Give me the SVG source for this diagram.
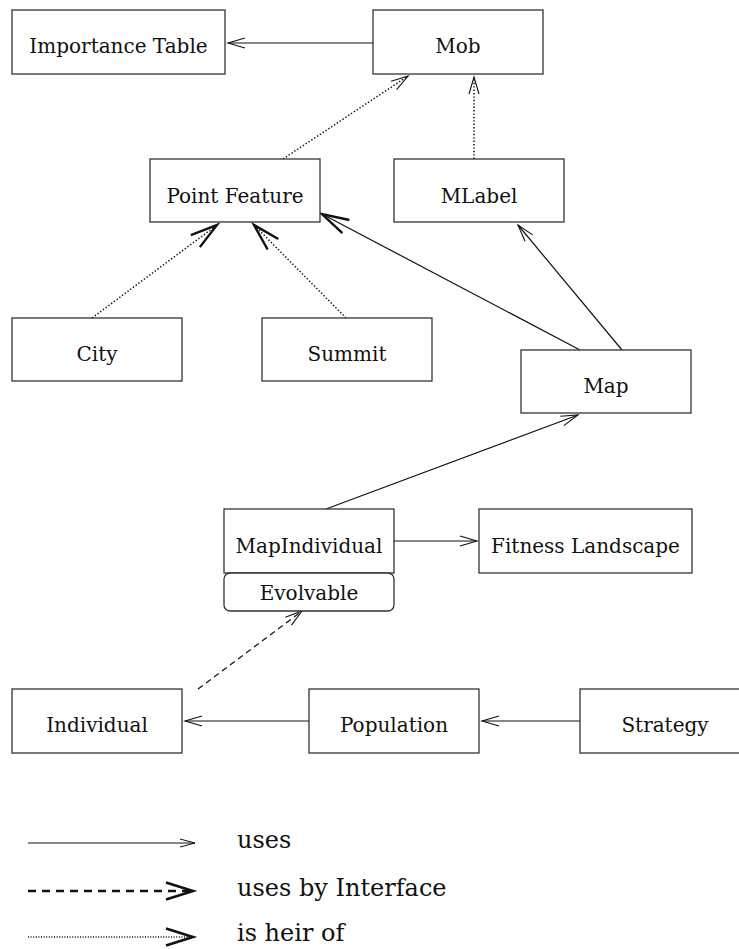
<svg xmlns="http://www.w3.org/2000/svg" width="739" height="949" viewBox="0 0 739 949">
<style>
.box{fill:#fff;stroke:#333;stroke-width:1.3}
.lbl{font-family:"DejaVu Serif","Liberation Serif",serif;font-size:20px;fill:#111;text-anchor:middle}
.leg{font-family:"DejaVu Serif","Liberation Serif",serif;font-size:24px;fill:#111}
.c{fill:none;stroke:#111;stroke-width:1.2}
.dot{stroke-dasharray:1.4 2;stroke-width:1.5}
.dash{stroke-dasharray:6 4}
</style>
<defs>
<marker id="thin" markerUnits="userSpaceOnUse" orient="auto" overflow="visible" markerWidth="1" markerHeight="1" refX="0" refY="0">
<path d="M-17,-5 L0,0 L-17,5" fill="none" stroke="#111" stroke-width="1.1"/>
</marker>
<marker id="bold" markerUnits="userSpaceOnUse" orient="auto" overflow="visible" markerWidth="1" markerHeight="1" refX="0" refY="0">
<path d="M-27,-7.5 L0,0 L-27,7.5" fill="none" stroke="#111" stroke-width="2.4"/>
</marker>
<marker id="legthin" markerUnits="userSpaceOnUse" orient="auto" overflow="visible" markerWidth="1" markerHeight="1" refX="0" refY="0">
<path d="M-15,-4 L0,0 L-15,4" fill="none" stroke="#111" stroke-width="1"/>
</marker>
<marker id="legbold" markerUnits="userSpaceOnUse" orient="auto" overflow="visible" markerWidth="1" markerHeight="1" refX="0" refY="0">
<path d="M-27,-8.5 L0,0 L-27,8.5" fill="none" stroke="#111" stroke-width="2.6"/>
</marker>
</defs>
<rect width="739" height="949" fill="#fff"/>

<g id="connectors">
<line class="c" x1="373" y1="43" x2="228" y2="43" marker-end="url(#thin)"/>
<line class="c dot" x1="283" y1="159" x2="408" y2="76" marker-end="url(#thin)"/>
<line class="c dot" x1="474" y1="159" x2="474" y2="77" marker-end="url(#thin)"/>
<line class="c dot" x1="92" y1="318" x2="217" y2="225" marker-end="url(#bold)"/>
<line class="c dot" x1="346" y1="318" x2="254" y2="225" marker-end="url(#bold)"/>
<line class="c" x1="580" y1="350" x2="322" y2="214" marker-end="url(#bold)"/>
<line class="c" x1="622" y1="350" x2="518" y2="225" marker-end="url(#thin)"/>
<line class="c" x1="326" y1="509" x2="578" y2="415" marker-end="url(#thin)"/>
<line class="c" x1="394" y1="541" x2="477" y2="541" marker-end="url(#thin)"/>
<line class="c dash" x1="198" y1="689" x2="302" y2="611" marker-end="url(#thin)"/>
<line class="c" x1="309" y1="721" x2="185" y2="721" marker-end="url(#thin)"/>
<line class="c" x1="580" y1="721" x2="482" y2="721" marker-end="url(#thin)"/>
</g>

<g id="importance-table"><rect class="box" x="12" y="10" width="213" height="64"/><text class="lbl" x="118.5" y="53">Importance Table</text></g>
<g id="mob"><rect class="box" x="373" y="10" width="170" height="64"/><text class="lbl" x="458" y="53">Mob</text></g>
<g id="point-feature"><rect class="box" x="150" y="159" width="170" height="63"/><text class="lbl" x="235" y="203">Point Feature</text></g>
<g id="mlabel"><rect class="box" x="394" y="159" width="170" height="63"/><text class="lbl" x="479" y="203">MLabel</text></g>
<g id="city"><rect class="box" x="12" y="318" width="170" height="63"/><text class="lbl" x="97" y="361">City</text></g>
<g id="summit"><rect class="box" x="262" y="318" width="170" height="63"/><text class="lbl" x="347" y="361">Summit</text></g>
<g id="map"><rect class="box" x="521" y="350" width="170" height="63"/><text class="lbl" x="606" y="393">Map</text></g>
<g id="mapindividual"><rect class="box" x="224" y="509" width="170" height="64"/><text class="lbl" x="309" y="552.5">MapIndividual</text></g>
<g id="evolvable"><rect class="box" x="224" y="573" width="170" height="38" rx="6" ry="6"/><text class="lbl" x="309" y="600">Evolvable</text></g>
<g id="fitness-landscape"><rect class="box" x="479" y="509" width="213" height="64"/><text class="lbl" x="585.5" y="552.5">Fitness Landscape</text></g>
<g id="individual"><rect class="box" x="12" y="689" width="170" height="64"/><text class="lbl" x="97" y="732">Individual</text></g>
<g id="population"><rect class="box" x="309" y="689" width="170" height="64"/><text class="lbl" x="394" y="732">Population</text></g>
<g id="strategy"><rect class="box" x="580" y="689" width="170" height="64"/><text class="lbl" x="665" y="732">Strategy</text></g>

<g id="legend">
<line class="c" x1="28" y1="843" x2="195" y2="843" stroke-width="1" marker-end="url(#legthin)"/>
<line x1="28" y1="891" x2="193" y2="891" fill="none" stroke="#111" stroke-width="2.6" stroke-dasharray="8 6" marker-end="url(#legbold)"/>
<line x1="28" y1="937" x2="193" y2="937" fill="none" stroke="#111" stroke-width="1.3" stroke-dasharray="1 1.6" marker-end="url(#legbold)"/>
<text class="leg" x="237" y="848">uses</text>
<text class="leg" x="237" y="896">uses by Interface</text>
<text class="leg" x="237" y="941">is heir of</text>
</g>
</svg>
